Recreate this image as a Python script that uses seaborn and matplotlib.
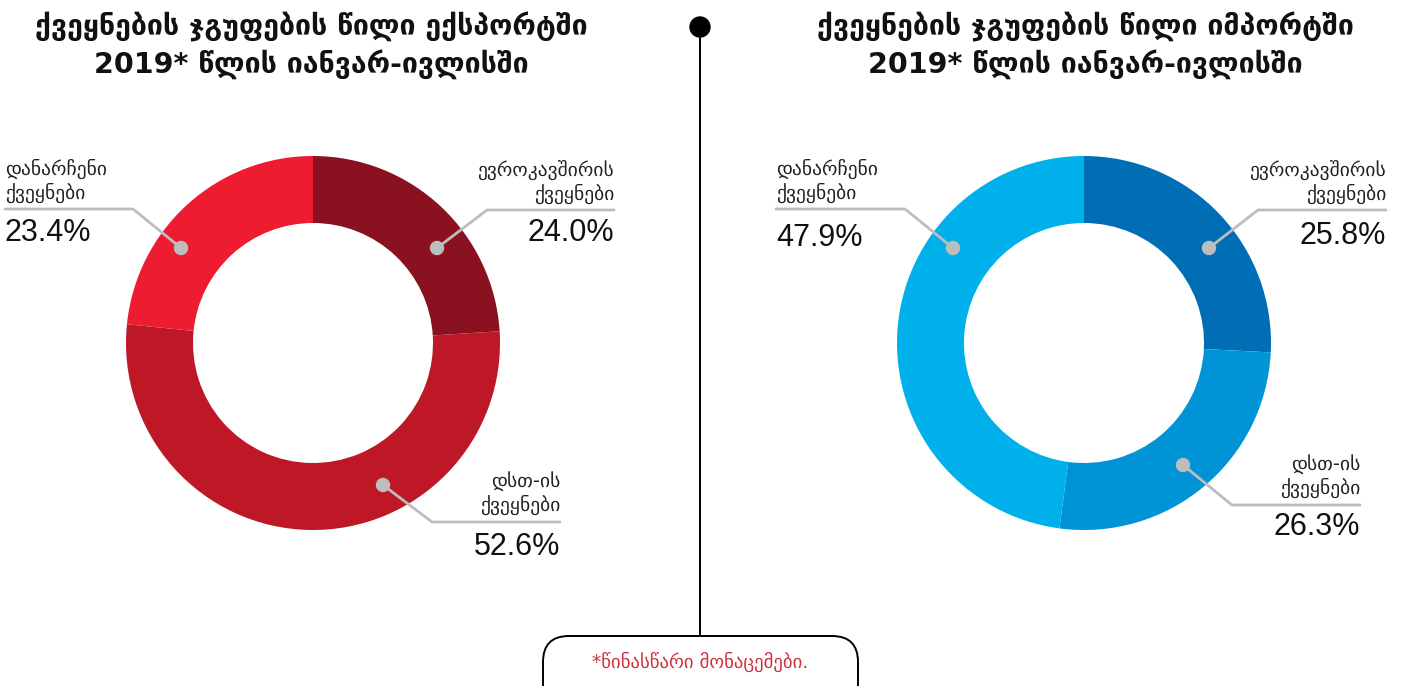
import matplotlib
matplotlib.use("Agg")
import matplotlib.pyplot as plt
from matplotlib.patches import Circle, FancyBboxPatch
import seaborn as sns

# ---- data ----
categories = ["ევროკავშირის\nქვეყნები", "დსთ-ის\nქვეყნები", "დანარჩენი\nქვეყნები"]
export_share = [24.0, 52.6, 23.4]
import_share = [25.8, 26.3, 47.9]
export_colors = ["#8A1220", "#BE1827", "#EE1C31"]
import_colors = ["#006EB5", "#0094D6", "#00B0EA"]
title_export = "ქვეყნების ჯგუფების წილი ექსპორტში\n2019* წლის იანვარ-ივლისში"
title_import = "ქვეყნების ჯგუფების წილი იმპორტში\n2019* წლის იანვარ-ივლისში"
footnote = "*წინასწარი მონაცემები."

sns.set_theme(style="white")
plt.rcParams['font.family'] = ['DejaVu Sans']

W, H = 1419, 686
fig = plt.figure(figsize=(W / 100, H / 100), dpi=100)
fig.patch.set_facecolor("white")
ax = fig.add_axes([0, 0, 1, 1])


def Y(py):
    return H - py


R_OUT, R_W = 187, 67
centers = [(313, 343), (1084, 343)]
for (cx, cy), vals, cols in [(centers[0], export_share, export_colors),
                             (centers[1], import_share, import_colors)]:
    ax.pie(vals, colors=cols, startangle=90, counterclock=False,
           radius=R_OUT, center=(cx, Y(cy)), frame=True,
           wedgeprops=dict(width=R_W, edgecolor="none", linewidth=0))

ax.set_xlim(0, W)
ax.set_ylim(0, H)
ax.set_aspect("auto")
ax.axis("off")

# titles
for x, t in [(311, title_export), (1085, title_import)]:
    ax.text(x, Y(45), t, ha="center", va="center", fontsize=20.5,
            fontweight="bold", color="#111111", linespacing=1.3)

gray = "#BDBDBD"
# label layout: (text, pct, align, text_x, label_y, line_y, line_end_x, dot, pct_y)
layouts = [
    # export
    (categories[0], export_share[0], "right", 614, 182, 210, 487, (437, 248), 233),
    (categories[1], export_share[1], "right", 560, 493, 522, 432, (383, 485), 547),
    (categories[2], export_share[2], "left", 5, 181, 209, 133, (181, 248), 233),
    # import
    (categories[0], import_share[0], "right", 1386, 182, 210, 1258, (1209, 248), 236),
    (categories[1], import_share[1], "right", 1360, 476, 505, 1232, (1183, 465), 527),
    (categories[2], import_share[2], "left", 776, 181, 209, 905, (953, 248), 238),
]
for text, pct, align, tx, ly, liny, lend, (dx, dy), py in layouts:
    ax.text(tx, Y(ly), text, ha=align, va="center", fontsize=14,
            color="#222222", linespacing=1.25)
    ax.plot([tx, lend, dx], [Y(liny), Y(liny), Y(dy)], color=gray, lw=2,
            solid_capstyle="round", zorder=4)
    ax.add_patch(Circle((dx, Y(dy)), 6.5, color=gray, zorder=5))
    ax.text(tx, Y(py), f"{pct:.1f}%", ha=align, va="center", fontsize=22,
            color="#111111", family=["Liberation Sans", "DejaVu Sans"])

# divider
ax.plot([700, 700], [Y(27), Y(636)], color="black", lw=1.4, zorder=3)
ax.add_patch(Circle((700, Y(27)), 10, color="black", zorder=4))
box = FancyBboxPatch((543, Y(720)), 315, 84,
                     boxstyle="round,pad=0,rounding_size=26",
                     facecolor="white", edgecolor="black", lw=1.4, zorder=4)
ax.add_patch(box)
ax.text(700, Y(662), footnote, ha="center", va="center", fontsize=13.5,
        color="#D0303C", zorder=5)

fig.savefig("out.png", dpi=100, facecolor="white")
